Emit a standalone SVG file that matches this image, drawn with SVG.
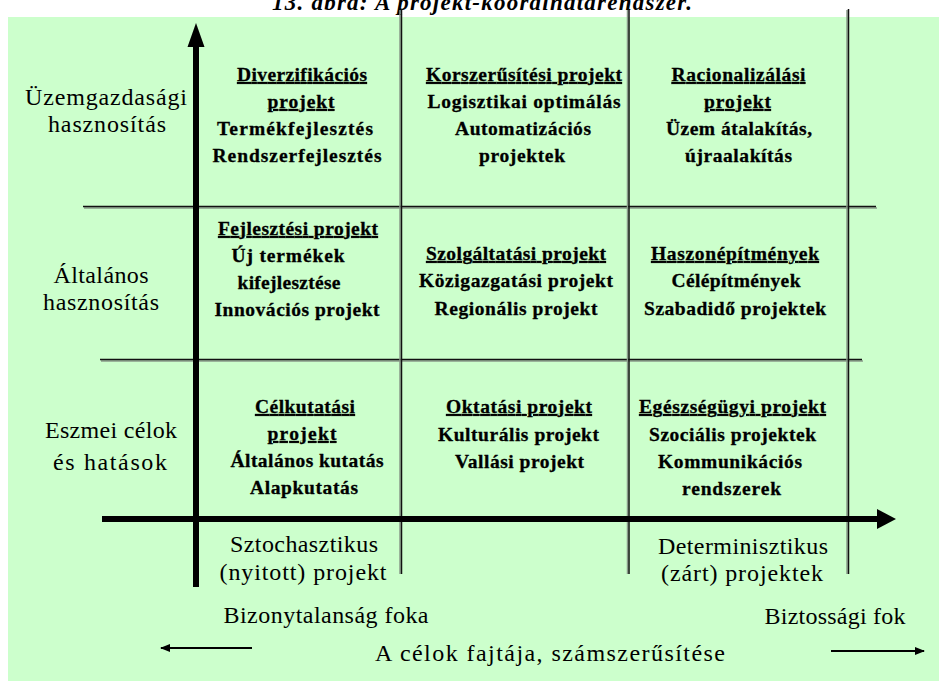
<svg xmlns="http://www.w3.org/2000/svg" width="939" height="689" viewBox="0 0 939 689">
  <style>
    .cell { font-family: "Liberation Serif", "Times New Roman", serif; font-size: 19.5px; font-weight: bold; fill: #000; stroke: #000; stroke-width: 0.3; text-anchor: middle; }
    .u { text-decoration: underline; }
    .lbl { font-family: "Liberation Serif", "Times New Roman", serif; font-size: 24px; fill: #000; text-anchor: middle; }
    .title { font-family: "Liberation Serif", "Times New Roman", serif; font-size: 23px; font-weight: bold; font-style: italic; fill: #000; text-anchor: middle; }
    .grid { stroke: #111; stroke-width: 1.5; fill: none; }
    .shade { stroke: #8a9a8a; stroke-width: 1.5; fill: none; }
    .axis { stroke: #000; stroke-width: 6; fill: none; }
    .thin { stroke: #000; stroke-width: 2; fill: none; }
  </style>
  <defs>
    <marker id="smallHead" viewBox="0 0 10 8" refX="9" refY="4" markerWidth="10" markerHeight="8" markerUnits="userSpaceOnUse" orient="auto">
      <path d="M0,0 L10,4 L0,8 Z" fill="#000"/>
    </marker>
  </defs>

  <!-- background panel -->
  <rect x="8" y="17" width="931" height="664" fill="#CCFFCC"/>
  <text class="title" x="482" y="10" textLength="420" lengthAdjust="spacing">13. ábra: A projekt-koordinátarendszer.</text>

  <!-- grid and axes -->
  <g id="connectors">
    <!-- row separators with soft shadow -->
    <line class="shade" x1="84" y1="208" x2="877" y2="208"/>
    <line class="grid" x1="83" y1="206.5" x2="876" y2="206.5"/>
    <line class="shade" x1="101" y1="361" x2="863" y2="361"/>
    <line class="grid" x1="100" y1="359.5" x2="862" y2="359.5"/>
    <!-- column separators -->
    <line class="shade" x1="400" y1="10" x2="400" y2="574"/>
    <line class="grid" x1="401.5" y1="9" x2="401.5" y2="574"/>
    <line class="shade" x1="627.5" y1="10" x2="627.5" y2="574"/>
    <line class="grid" x1="629" y1="9" x2="629" y2="574"/>
    <line class="shade" x1="847" y1="10" x2="847" y2="574"/>
    <line class="grid" x1="848.5" y1="9" x2="848.5" y2="574"/>
    <!-- vertical axis -->
    <line class="axis" x1="196" y1="44" x2="196" y2="587"/>
    <path d="M196,23 L204.5,47 L187.5,47 Z" fill="#000"/>
    <!-- horizontal axis -->
    <line class="axis" x1="102" y1="519" x2="880" y2="519"/>
    <path d="M896,519 L877,509 L877,529 Z" fill="#000"/>
    <!-- direction arrows -->
    <line class="thin" x1="252" y1="648" x2="161" y2="648" marker-end="url(#smallHead)"/>
    <line class="thin" x1="831" y1="651" x2="924" y2="651" marker-end="url(#smallHead)"/>
  </g>

  <!-- row labels -->
  <g id="row-uzemgazdasagi">
    <text class="lbl" x="106" y="105" textLength="162" lengthAdjust="spacing">Üzemgazdasági</text>
    <text class="lbl" x="107" y="132" textLength="118" lengthAdjust="spacing">hasznosítás</text>
  </g>
  <g id="row-altalanos">
    <text class="lbl" x="101" y="283" textLength="95" lengthAdjust="spacing">Általános</text>
    <text class="lbl" x="101" y="310" textLength="116" lengthAdjust="spacing">hasznosítás</text>
  </g>
  <g id="row-eszmei">
    <text class="lbl" x="111" y="438" textLength="132" lengthAdjust="spacing">Eszmei célok</text>
    <text class="lbl" x="110" y="470" textLength="114" lengthAdjust="spacing">és hatások</text>
  </g>

  <!-- row 1 cells -->
  <g id="cell-diverzifikacios">
    <text class="cell u" x="302" y="81" textLength="130" lengthAdjust="spacing">Diverzifikációs</text>
    <text class="cell u" x="301" y="108" textLength="67" lengthAdjust="spacing">projekt</text>
    <text class="cell" x="295" y="135" textLength="156" lengthAdjust="spacing">Termékfejlesztés</text>
    <text class="cell" x="297" y="162" textLength="169" lengthAdjust="spacing">Rendszerfejlesztés</text>
  </g>
  <g id="cell-korszerusitesi">
    <text class="cell u" x="524" y="81" textLength="196" lengthAdjust="spacing">Korszerűsítési projekt</text>
    <text class="cell" x="524" y="108" textLength="193" lengthAdjust="spacing">Logisztikai optimálás</text>
    <text class="cell" x="523" y="135" textLength="136" lengthAdjust="spacing">Automatizációs</text>
    <text class="cell" x="522" y="162" textLength="86" lengthAdjust="spacing">projektek</text>
  </g>
  <g id="cell-racionalizalasi">
    <text class="cell u" x="738.5" y="81" textLength="134" lengthAdjust="spacing">Racionalizálási</text>
    <text class="cell u" x="737.5" y="108" textLength="67" lengthAdjust="spacing">projekt</text>
    <text class="cell" x="739" y="135" textLength="146" lengthAdjust="spacing">Üzem átalakítás,</text>
    <text class="cell" x="738.5" y="162" textLength="107" lengthAdjust="spacing">újraalakítás</text>
  </g>

  <!-- row 2 cells -->
  <g id="cell-fejlesztesi">
    <text class="cell u" x="298" y="235" textLength="160" lengthAdjust="spacing">Fejlesztési projekt</text>
    <text class="cell" x="288" y="262" textLength="113" lengthAdjust="spacing">Új termékek</text>
    <text class="cell" x="289" y="289" textLength="103" lengthAdjust="spacing">kifejlesztése</text>
    <text class="cell" x="297" y="316" textLength="165" lengthAdjust="spacing">Innovációs projekt</text>
  </g>
  <g id="cell-szolgaltatasi">
    <text class="cell u" x="516" y="260" textLength="180" lengthAdjust="spacing">Szolgáltatási projekt</text>
    <text class="cell" x="516" y="287" textLength="194" lengthAdjust="spacing">Közigazgatási projekt</text>
    <text class="cell" x="516" y="315" textLength="163" lengthAdjust="spacing">Regionális projekt</text>
  </g>
  <g id="cell-haszonepitmenyek">
    <text class="cell u" x="735" y="260" textLength="168" lengthAdjust="spacing">Haszonépítmények</text>
    <text class="cell" x="736" y="287" textLength="129" lengthAdjust="spacing">Célépítmények</text>
    <text class="cell" x="735" y="315" textLength="182" lengthAdjust="spacing">Szabadidő projektek</text>
  </g>

  <!-- row 3 cells -->
  <g id="cell-celkutatasi">
    <text class="cell u" x="305" y="413" textLength="100" lengthAdjust="spacing">Célkutatási</text>
    <text class="cell u" x="302" y="440" textLength="69" lengthAdjust="spacing">projekt</text>
    <text class="cell" x="307" y="467" textLength="153" lengthAdjust="spacing">Általános kutatás</text>
    <text class="cell" x="304" y="494" textLength="108" lengthAdjust="spacing">Alapkutatás</text>
  </g>
  <g id="cell-oktatasi">
    <text class="cell u" x="519" y="413" textLength="146" lengthAdjust="spacing">Oktatási projekt</text>
    <text class="cell" x="518.5" y="441" textLength="161" lengthAdjust="spacing">Kulturális projekt</text>
    <text class="cell" x="519.5" y="468" textLength="129" lengthAdjust="spacing">Vallási projekt</text>
  </g>
  <g id="cell-egeszsegugyi">
    <text class="cell u" x="732.5" y="413" textLength="187" lengthAdjust="spacing">Egészségügyi projekt</text>
    <text class="cell" x="732.5" y="441" textLength="167" lengthAdjust="spacing">Szociális projektek</text>
    <text class="cell" x="730" y="468" textLength="144" lengthAdjust="spacing">Kommunikációs</text>
    <text class="cell" x="731.5" y="495" textLength="99" lengthAdjust="spacing">rendszerek</text>
  </g>

  <!-- below the horizontal axis -->
  <g id="label-sztochasztikus">
    <text class="lbl" x="304" y="552" textLength="148" lengthAdjust="spacing">Sztochasztikus</text>
    <text class="lbl" x="303" y="580" textLength="167" lengthAdjust="spacing">(nyitott) projekt</text>
  </g>
  <g id="label-determinisztikus">
    <text class="lbl" x="743" y="554" textLength="170" lengthAdjust="spacing">Determinisztikus</text>
    <text class="lbl" x="742" y="581" textLength="162" lengthAdjust="spacing">(zárt) projektek</text>
  </g>
  <g id="label-bizonytalansag">
    <text class="lbl" x="326" y="623" textLength="205" lengthAdjust="spacing">Bizonytalanság foka</text>
  </g>
  <g id="label-biztossagi">
    <text class="lbl" x="835" y="624" textLength="141" lengthAdjust="spacing">Biztossági fok</text>
  </g>
  <g id="label-celok">
    <text class="lbl" x="550" y="661" textLength="350" lengthAdjust="spacing">A célok fajtája, számszerűsítése</text>
  </g>
</svg>
